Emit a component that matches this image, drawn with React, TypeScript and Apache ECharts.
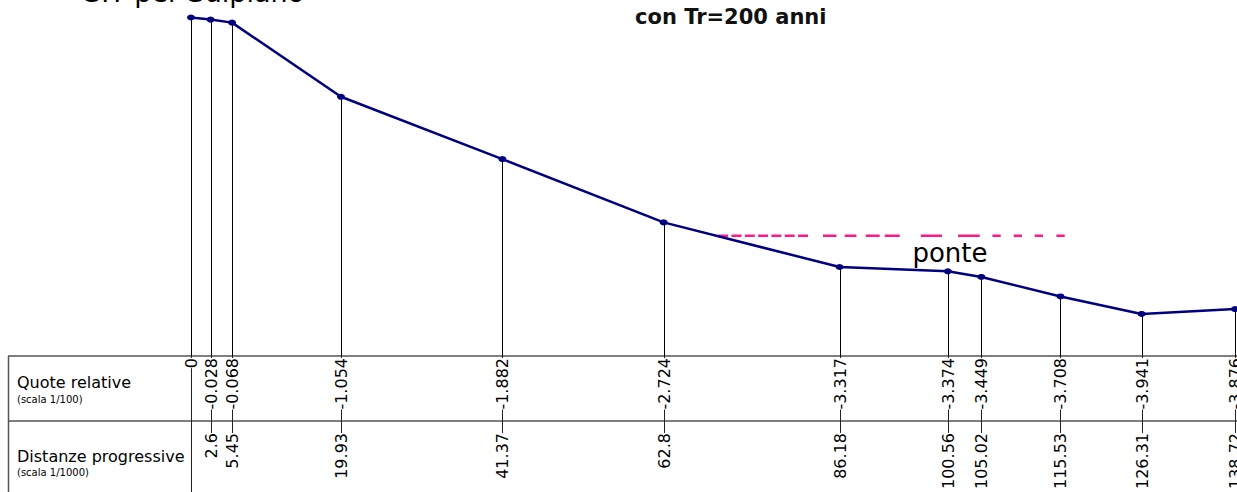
import React, { useEffect, useRef } from "react";
import * as echarts from "echarts";

// Profile data
const distances = [0, 2.6, 5.45, 19.93, 41.37, 62.8, 86.18, 100.56, 105.02, 115.53, 126.31, 138.72];
const elevations = [0, -0.028, -0.068, -1.054, -1.882, -2.724, -3.317, -3.374, -3.449, -3.708, -3.941, -3.876];
const quoteLabels = ["0", "-0.028", "-0.068", "-1.054", "-1.882", "-2.724", "-3.317", "-3.374", "-3.449", "-3.708", "-3.941", "-3.876"];
const distanceLabels = ["", "2.6", "5.45", "19.93", "41.37", "62.8", "86.18", "100.56", "105.02", "115.53", "126.31", "138.72"];

// Water level (Tr = 200 anni)
const waterX = [70, 116.1];
const waterLevel = [-2.9, -2.9];

const FONT = "DejaVu Sans";

export default function App() {
  const ref = useRef<HTMLDivElement>(null);
  useEffect(() => {
    if (!ref.current) return;
    const chart = echarts.init(ref.current, null, { renderer: "svg" });
    const tableTop = 356;
    const midLine = 421;
    const distLabelTop = 433;
    const option: any = {
      animation: false,
      backgroundColor: "#fff",
      grid: { left: 191, top: 17.5, width: 1044, height: 338.5 },
      xAxis: { type: "value", min: 0, max: 138.72, show: false },
      yAxis: { type: "value", min: -4.5, max: 0, show: false },
      series: [
        {
          type: "custom",
          clip: false,
          z: 1,
          data: distances.map((d, i) => [d, elevations[i], i]),
          renderItem: (params: any, api: any) => {
            const i = api.value(2);
            const p = api.coord([api.value(0), api.value(1)]);
            const x = Math.round(p[0]) + 0.5;
            const children: any[] = [
              {
                type: "line",
                shape: { x1: x, y1: p[1], x2: x, y2: tableTop },
                style: { stroke: "#000", lineWidth: 1 },
              },
              {
                type: "line",
                shape: { x1: x, y1: tableTop, x2: x, y2: i === 0 ? 492 : distLabelTop + 2 },
                style: { stroke: "#222", lineWidth: 1 },
              },
              {
                type: "text",
                x: x,
                y: tableTop + 2,
                rotation: Math.PI / 2,
                style: {
                  text: quoteLabels[i],
                  textAlign: "right",
                  textVerticalAlign: "middle",
                  fontSize: 16,
                  fontFamily: FONT,
                  fill: "#000",
                  backgroundColor: "#fff",
                },
              },
            ];
            if (distanceLabels[i]) {
              children.push({
                type: "text",
                x: x,
                y: distLabelTop,
                rotation: Math.PI / 2,
                style: {
                  text: distanceLabels[i],
                  textAlign: "right",
                  textVerticalAlign: "middle",
                  fontSize: 16,
                  fontFamily: FONT,
                  fill: "#000",
                  backgroundColor: "#fff",
                },
              });
            }
            return { type: "group", children };
          },
        },
        {
          type: "line",
          z: 3,
          data: waterX.map((x, i) => [x, waterLevel[i]]),
          symbol: "none",
          lineStyle: {
            color: "#ff1a8c",
            width: 2.5,
            type: [10.3, 3.4, 10, 3.3, 10, 3.3, 10, 3.3, 10, 3.3, 10, 3.3, 10, 15, 13.4, 8.3, 11.7, 9.3, 14, 5, 15, 21, 21.3, 16, 21.7, 12.7, 8.3, 13, 8.3, 12.7, 8.3, 13.4, 8.3],
          },
        },
        {
          type: "line",
          z: 4,
          data: distances.map((d, i) => [d, elevations[i]]),
          symbol: "circle",
          symbolSize: [8, 6],
          itemStyle: { color: "#000080" },
          lineStyle: { color: "#000080", width: 2.5 },
        },
      ],
      graphic: [
        { type: "line", shape: { x1: 8, y1: tableTop, x2: 1237, y2: tableTop }, style: { stroke: "#555", lineWidth: 1.5 }, z: 0 },
        { type: "line", shape: { x1: 8, y1: midLine, x2: 1237, y2: midLine }, style: { stroke: "#555", lineWidth: 1.5 }, z: 0 },
        { type: "line", shape: { x1: 8.5, y1: tableTop, x2: 8.5, y2: 492 }, style: { stroke: "#555", lineWidth: 1.5 }, z: 0 },
        { type: "text", x: 84, y: -8, style: { text: "SIT per Sulpiano", fontSize: 27, fontFamily: FONT, fill: "#000", textAlign: "left", textVerticalAlign: "middle" } },
        { type: "text", x: 635, y: 17, style: { text: "con Tr=200 anni", fontSize: 21, fontWeight: "bold", fontFamily: FONT, fill: "#111", textAlign: "left", textVerticalAlign: "middle" } },
        { type: "text", x: 950, y: 253, style: { text: "ponte", fontSize: 26, fontFamily: FONT, fill: "#000", textAlign: "center", textVerticalAlign: "middle" } },
        { type: "text", x: 17, y: 382, style: { text: "Quote relative", fontSize: 16, fontFamily: FONT, fill: "#000", textAlign: "left", textVerticalAlign: "middle" } },
        { type: "text", x: 17, y: 399, style: { text: "(scala 1/100)", fontSize: 10, fontFamily: FONT, fill: "#000", textAlign: "left", textVerticalAlign: "middle" } },
        { type: "text", x: 17, y: 456, style: { text: "Distanze progressive", fontSize: 16, fontFamily: FONT, fill: "#000", textAlign: "left", textVerticalAlign: "middle" } },
        { type: "text", x: 17, y: 472, style: { text: "(scala 1/1000)", fontSize: 10, fontFamily: FONT, fill: "#000", textAlign: "left", textVerticalAlign: "middle" } },
      ],
    };
    chart.setOption(option);
    return () => chart.dispose();
  }, []);
  return <div ref={ref} style={{ position: "absolute", left: 0, top: 0, width: 1237, height: 492 }} />;
}
